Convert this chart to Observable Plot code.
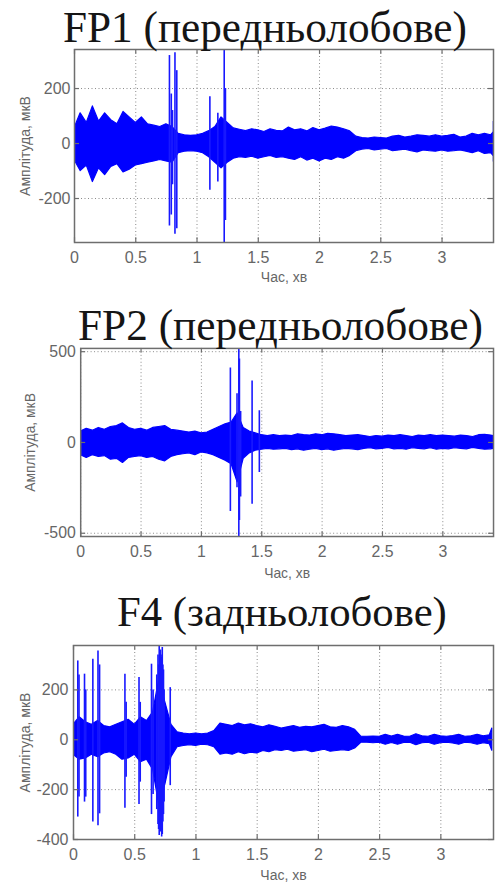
<!DOCTYPE html>
<html><head><meta charset="utf-8">
<script src="https://cdn.jsdelivr.net/npm/d3@7"></script>
<script src="https://cdn.jsdelivr.net/npm/@observablehq/plot@0.6"></script>
<style>
html,body{margin:0;padding:0;background:#fff;}
#page{position:relative;width:497px;height:882px;overflow:hidden;background:#fff;}
.title{position:absolute;white-space:nowrap;font-family:"Liberation Serif","Times New Roman",serif;color:#151515;line-height:1;}
.panel{position:absolute;left:0;}
</style></head><body><div id="page"></div>
<script>
// ---- data ----
const time = [0,0.05,0.1,0.15,0.2,0.25,0.3,0.35,0.4,0.45,0.5,0.55,0.6,0.65,0.7,0.75,0.8,0.85,0.9,0.95,1,1.05,1.1,1.15,1.2,1.25,1.3,1.35,1.4,1.45,1.5,1.55,1.6,1.65,1.7,1.75,1.8,1.85,1.9,1.95,2,2.05,2.1,2.15,2.2,2.25,2.3,2.35,2.4,2.45,2.5,2.55,2.6,2.65,2.7,2.75,2.8,2.85,2.9,2.95,3,3.05,3.1,3.15,3.2,3.25,3.3,3.35,3.4,3.42];

const fp1Upper = [55,110,75,135,80,110,85,70,115,95, 75,95,70,65,60,70,60,35,30,28, 30,35,45,60,95,75,55,50,45,52, 48,42,52,46,44,58,48,52,44,56, 48,54,62,58,52,44,25,20,18,22, 20,18,25,28,22,25,30,28,25,30, 25,28,32,22,25,35,30,35,30,40];
const fp1Lower = [-60,-100,-80,-140,-90,-115,-85,-75,-105,-95, -80,-75,-70,-65,-60,-65,-70,-35,-30,-28, -30,-35,-50,-70,-90,-70,-55,-50,-52,-48, -55,-50,-45,-52,-50,-55,-60,-50,-62,-55, -65,-55,-60,-50,-55,-45,-28,-22,-20,-25, -22,-20,-28,-25,-22,-28,-32,-25,-28,-30, -25,-30,-28,-25,-30,-35,-28,-38,-35,-45];
const fp1SpikeTime = [0.775,0.79,0.80,0.82,0.835,1.105,1.17,1.222,1.232,3.42];
const fp1SpikeTop = [320,180,120,330,265,170,110,345,200,80];
const fp1SpikeBottom = [-300,-260,-150,-330,-310,-170,-140,-360,-280,-67];

const fp2Upper = [60,75,65,80,70,85,90,105,80,70, 75,65,80,85,90,70,65,60,55,60, 50,55,70,85,100,110,160,80,60,50, 40,35,40,35,38,35,45,40,38,45, 40,48,45,40,35,38,40,35,30,35, 32,38,35,40,35,30,38,35,40,35, 38,35,32,38,35,30,40,42,38,35];
const fp2Lower = [-70,-85,-70,-80,-75,-95,-90,-113,-85,-80, -75,-85,-80,-95,-104,-80,-70,-65,-60,-70, -55,-60,-70,-85,-100,-120,-220,-90,-60,-45, -40,-35,-40,-38,-35,-42,-38,-45,-40,-35, -42,-38,-45,-40,-35,-38,-42,-35,-32,-38, -35,-30,-38,-35,-40,-32,-35,-38,-32,-40, -35,-38,-32,-35,-38,-30,-35,-40,-38,-35];
const fp2SpikeTime = [1.24,1.295,1.31,1.315,1.325,1.42,1.48];
const fp2SpikeTop = [410,268,520,460,170,338,175];
const fp2SpikeBottom = [-380,-250,-520,-430,-300,-340,-165];

const f4Upper = [60,90,70,60,75,55,50,60,70,80, 60,90,75,110,240,150,60,30,25,22, 25,22,25,35,65,60,55,65,58,62, 55,50,58,52,45,50,55,48,52,50, 55,60,50,48,55,50,40,12,12,13, 12,20,13,20,13,12,22,14,12,20, 14,12,15,20,12,14,20,14,18,45];
const f4Lower = [-60,-80,-75,-60,-70,-55,-50,-60,-80,-75, -60,-90,-80,-120,-260,-180,-70,-30,-25,-22, -25,-20,-22,-30,-60,-55,-60,-50,-58,-52, -55,-45,-50,-42,-45,-40,-48,-45,-42,-50, -45,-40,-48,-45,-42,-45,-35,-12,-12,-14, -12,-20,-13,-20,-13,-12,-22,-14,-12,-20, -14,-12,-15,-20,-12,-14,-20,-14,-18,-44];
const f4SpikeTime = [0.035,0.045,0.09,0.10,0.158,0.20,0.213,0.42,0.43,0.535,0.545,0.637,0.65,0.68,0.69,0.695,0.70,0.705,0.71,0.715,0.72,0.725,0.73,0.735,0.74,0.79];
const f4SpikeTop = [316,260,263,200,323,356,300,263,150,250,150,303,200,260,340,300,376,350,360,340,330,370,300,280,200,209];
const f4SpikeBottom = [-310,-230,-250,-230,-330,-345,-297,-275,-150,-260,-170,-300,-220,-280,-340,-360,-384,-330,-370,-350,-390,-380,-330,-300,-250,-184];

const xTicks = [0,0.5,1,1.5,2,2.5,3];
const xTickLabels = ["0","0.5","1","1.5","2","2.5","3"];
const fp1YTicks = [-200,0,200];
const fp2YTicks = [-500,0,500];
const f4YTicks = [-400,-200,0,200];

const titles = ["FP1 (передньолобове)","FP2 (передньолобове)","F4 (задньолобове)"];
const xLabel = "Час, хв";
const yLabel = "Амплітуда, мкВ";

// ---- drawing ----
const page = document.getElementById("page");
const BLUE = "#0000ff";
const FRAME = "#6e6e6e";
const GRID = "#8a8a8a";
const TEXT = "#666666";

function makePanel(cfg) {
  const rows = time.map((t, i) => ({t, hi: cfg.upper[i], lo: cfg.lower[i]}));
  const spikes = cfg.sTime.map((t, i) => ({t, hi: cfg.sTop[i], lo: cfg.sBottom[i]}));
  const [y0, y1] = cfg.yDomain;
  const ys = y1 - y0;
  const xs = cfg.xDomain[1] - cfg.xDomain[0];
  const chart = Plot.plot({
    width: cfg.width, height: cfg.height,
    marginLeft: cfg.ml, marginRight: cfg.mr, marginTop: cfg.mt, marginBottom: cfg.mb,
    x: {domain: cfg.xDomain},
    y: {domain: cfg.yDomain},
    style: {fontFamily: "'Liberation Sans', Arial, sans-serif", background: "transparent", color: TEXT, overflow: "visible"},
    marks: [
      Plot.gridX(xTicks, {stroke: GRID, strokeOpacity: 1, strokeWidth: 1, strokeDasharray: "1,2.5"}),
      Plot.gridY(cfg.yTicks, {stroke: GRID, strokeOpacity: 1, strokeWidth: 1, strokeDasharray: "1,2.5"}),
      Plot.areaY(rows, {x: "t", y1: "lo", y2: "hi", fill: BLUE, stroke: BLUE, strokeWidth: 1.2, clip: true}),
      Plot.ruleX(spikes, {x: "t", y1: "lo", y2: "hi", stroke: "#1818ff", strokeWidth: 1.6, clip: true}),
      Plot.frame({stroke: FRAME, strokeWidth: 1.5}),
      Plot.ruleX(xTicks, {x: d => d, y1: y0, y2: y0 + 0.025 * ys, stroke: FRAME, strokeWidth: 1.2}),
      Plot.ruleX(xTicks, {x: d => d, y1: y1, y2: y1 - 0.025 * ys, stroke: FRAME, strokeWidth: 1.2}),
      Plot.ruleY(cfg.yTicks, {y: d => d, x1: cfg.xDomain[0], x2: cfg.xDomain[0] + 0.012 * xs, stroke: FRAME, strokeWidth: 1.2}),
      Plot.ruleY(cfg.yTicks, {y: d => d, x1: cfg.xDomain[1], x2: cfg.xDomain[1] - 0.012 * xs, stroke: FRAME, strokeWidth: 1.2}),
      Plot.axisX(xTicks, {tickSize: 0, tickPadding: 9, fontSize: 16, fill: TEXT, label: null,
        tickFormat: d => xTickLabels[xTicks.indexOf(d)]}),
      Plot.axisY(cfg.yTicks, {tickSize: 0, tickPadding: cfg.yPad, fontSize: 16, fill: TEXT, label: null,
        tickFormat: d => String(d)}),
      Plot.text([xLabel], {text: d => d, frameAnchor: "bottom", dy: cfg.xLabelDy, fontSize: 14, fill: TEXT, lineAnchor: "middle"}),
      Plot.text([yLabel], {text: d => d, frameAnchor: "left", dx: cfg.yLabelDx, rotate: -90, fontSize: 14, fill: TEXT, lineAnchor: "middle", textAnchor: "middle"})
    ]
  });
  const wrap = document.createElement("div");
  wrap.className = "panel";
  wrap.style.top = cfg.top + "px";
  wrap.appendChild(chart);
  page.appendChild(wrap);
}

makePanel({top: 45, width: 497, height: 250, ml: 74, mr: 4, mt: 4, mb: 53,
  xDomain: [0, 3.42], yDomain: [-360, 342], yTicks: fp1YTicks, yPad: 4,
  upper: fp1Upper, lower: fp1Lower, sTime: fp1SpikeTime, sTop: fp1SpikeTop, sBottom: fp1SpikeBottom,
  xLabelDy: 35, yLabelDx: -49});

makePanel({top: 340, width: 502, height: 250, ml: 81, mr: 4, mt: 8, mb: 52,
  xDomain: [0, 3.42], yDomain: [-518, 518], yTicks: fp2YTicks, yPad: 5,
  upper: fp2Upper, lower: fp2Lower, sTime: fp2SpikeTime, sTop: fp2SpikeTop, sBottom: fp2SpikeBottom,
  xLabelDy: 37, yLabelDx: -51});

makePanel({top: 640, width: 497, height: 242, ml: 73, mr: 4, mt: 5, mb: 43,
  xDomain: [0, 3.43], yDomain: [-400, 378], yTicks: f4YTicks, yPad: 5,
  upper: f4Upper, lower: f4Lower, sTime: f4SpikeTime, sTop: f4SpikeTop, sBottom: f4SpikeBottom,
  xLabelDy: 36, yLabelDx: -48});

// titles: fit font size to measured width in the reference, place by baseline
const titleLayout = [
  {left: 63, baseline: 42, width: 404},
  {left: 78, baseline: 340, width: 405},
  {left: 117, baseline: 627, width: 330}
];
const ctx = document.createElement("canvas").getContext("2d");
titles.forEach((txt, i) => {
  const L = titleLayout[i];
  ctx.font = "40px 'Liberation Serif'";
  const w = ctx.measureText(txt).width;
  const fs = 40 * L.width / w;
  const d = document.createElement("div");
  d.className = "title";
  d.textContent = txt;
  d.style.fontSize = fs + "px";
  d.style.left = L.left + "px";
  d.style.top = (L.baseline - 0.8375 * fs) + "px";
  page.appendChild(d);
});
</script>
</body></html>
